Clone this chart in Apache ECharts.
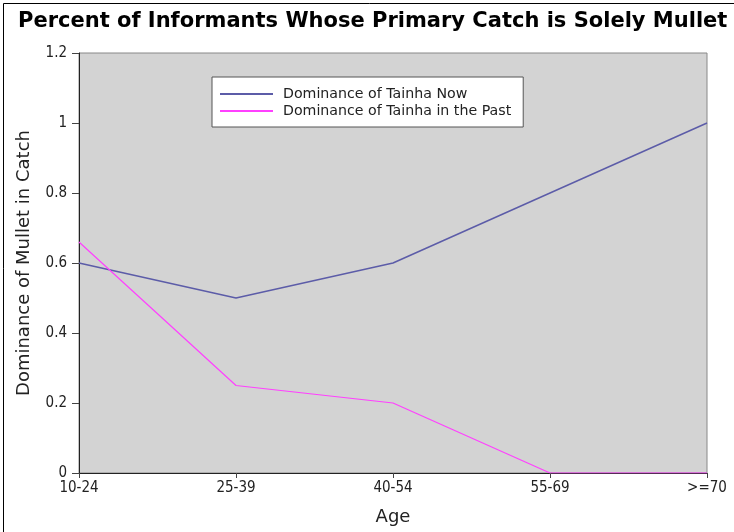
<!DOCTYPE html>
<html><head><meta charset="utf-8">
<script src="https://cdn.jsdelivr.net/npm/echarts@6/dist/echarts.min.js"></script>
<style>html,body{margin:0;padding:0;background:#fff}#c{width:734px;height:532px}</style>
</head><body><div id="c"></div>
<script>
const categories = ['10-24','25-39','40-54','55-69','>=70'];
const nowValues = [0.6, 0.5, 0.6, 0.8, 1.0];
const pastValues = [0.66, 0.25, 0.2, 0, 0];
const seriesNames = ['Dominance of Tainha Now','Dominance of Tainha in the Past'];
const yTicks = [0, 0.2, 0.4, 0.6, 0.8, 1, 1.2];

const chart = echarts.init(document.getElementById('c'), null, {renderer:'canvas'});
chart.setOption({
  animation:false,
  backgroundColor:'#fff',
  title:{text:'Percent of Informants Whose Primary Catch is Solely Mullet', left:18, top:11, padding:0,
    textStyle:{fontFamily:'DejaVu Sans', fontWeight:'bold', fontSize:21, color:'#000'}},
  graphic:[{type:'rect', shape:{x:3.5,y:3.5,width:740,height:540}, style:{fill:'none', stroke:'#000', lineWidth:1}, silent:true}],
  grid:{left:79, right:27, top:53, bottom:59, show:true, backgroundColor:'#d3d3d3', borderColor:'#888', borderWidth:1},
  legend:{orient:'vertical', left:212, top:77, width:313, itemWidth:53, itemHeight:2, itemGap:3,
    padding:[10,12,9,8], backgroundColor:'#fff', borderColor:'#555', borderWidth:1, icon:'rect',
    textStyle:{fontFamily:'DejaVu Sans', fontSize:14.2, color:'#222', padding:[0,0,0,5]}, data:seriesNames},
  xAxis:{type:'category', data:categories, boundaryGap:false,
    name:'Age', nameLocation:'middle', nameGap:35, nameTextStyle:{fontFamily:'DejaVu Sans', fontSize:18, color:'#222'},
    axisLine:{lineStyle:{color:'#222', width:1}}, axisTick:{show:true, length:5, lineStyle:{color:'#444'}},
    axisLabel:{fontFamily:'DejaVu Sans Condensed', fontSize:15, color:'#222', margin:8, showMaxLabel:true, showMinLabel:true},
    splitLine:{show:false}},
  yAxis:{type:'value', min:0, max:1.2, interval:0.2,
    name:'Dominance of Mullet in Catch', nameLocation:'middle', nameGap:46, nameTextStyle:{fontFamily:'DejaVu Sans', fontSize:18, color:'#222'},
    axisLine:{show:true, lineStyle:{color:'#222', width:1}}, axisTick:{show:true, length:7, lineStyle:{color:'#444'}},
    axisLabel:{fontFamily:'DejaVu Sans Condensed', fontSize:15, color:'#222', margin:12,
      formatter:v=>{const t=yTicks.find(x=>Math.abs(x-v)<1e-9); return t===undefined?'':String(t);}},
    splitLine:{show:false}},
  series:[
    {name:seriesNames[0], type:'line', data:nowValues, symbol:'none', color:'#5c5ca8', lineStyle:{width:1.5, color:'#5c5ca8'}},
    {name:seriesNames[1], type:'line', data:pastValues, symbol:'none', color:'#ff40ff', lineStyle:{width:1.2, color:'#ff40ff'}}
  ]
});
</script></body></html>
